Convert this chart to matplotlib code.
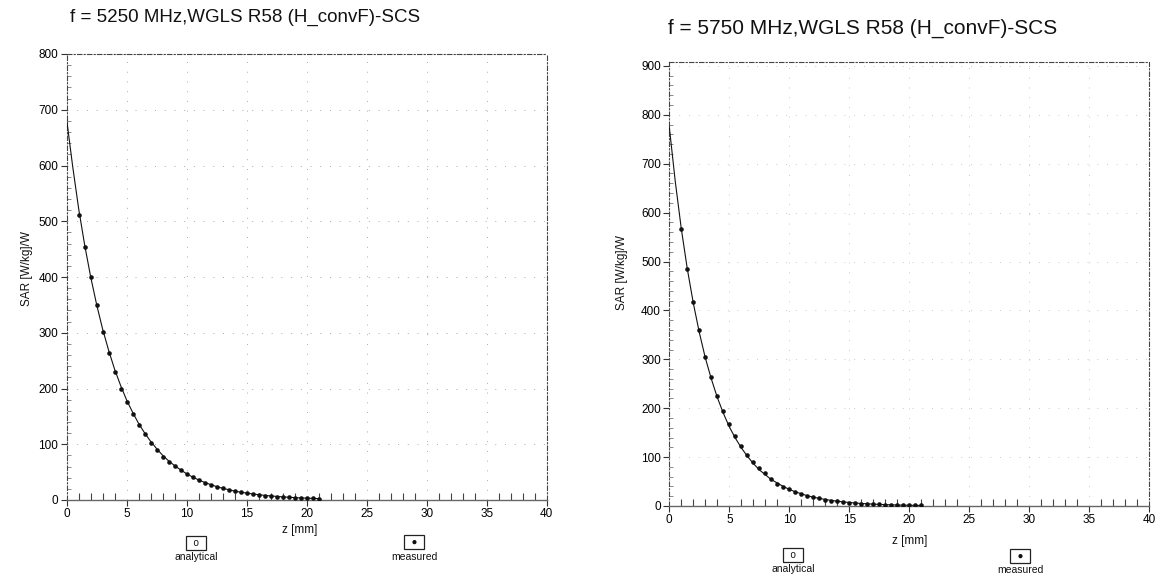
import matplotlib
matplotlib.use("Agg")
import matplotlib.pyplot as plt
from matplotlib.ticker import MultipleLocator

plt.rcParams["font.family"] = ["Liberation Sans", "DejaVu Sans"]

# Depth below the phantom surface [mm]
z_analytical = [0.0, 0.5, 1.0, 1.5, 2.0, 2.5, 3.0, 3.5, 4.0, 4.5, 5.0, 5.5, 6.0, 6.5,
                7.0, 7.5, 8.0, 8.5, 9.0, 9.5, 10.0, 10.5, 11.0, 11.5, 12.0, 12.5, 13.0,
                13.5, 14.0, 14.5, 15.0, 15.5, 16.0, 16.5, 17.0, 17.5, 18.0, 18.5, 19.0,
                19.5, 20.0, 20.5, 21.0]
z_measured = [1.0, 1.5, 2.0, 2.5, 3.0, 3.5, 4.0, 4.5, 5.0, 5.5, 6.0, 6.5, 7.0, 7.5,
              8.0, 8.5, 9.0, 9.5, 10.0, 10.5, 11.0, 11.5, 12.0, 12.5, 13.0, 13.5, 14.0,
              14.5, 15.0, 15.5, 16.0, 16.5, 17.0, 17.5, 18.0, 18.5, 19.0, 19.5, 20.0,
              20.5, 21.0]

# 5250 MHz: SAR per watt [W/kg/W]
sar_analytical_5250 = [682, 598, 522, 457, 400, 350, 306, 268, 234, 205, 179, 157, 137,
                       120, 105, 92, 80, 70, 61.5, 54, 47, 41, 36, 31.5, 27.6, 24, 21,
                       18.5, 16, 14, 12.4, 10.8, 9.5, 8.3, 7.3, 6.4, 5.6, 4.9, 4.3, 3.7,
                       3.3, 2.9, 2.5]
sar_measured_5250 = [512, 454, 400, 350, 301, 263, 230, 200, 176, 154, 135, 118, 103, 90,
                     78, 69, 61, 54, 47, 41, 36, 31, 27, 24, 21, 18, 16, 14, 12, 10.5, 9,
                     8, 7, 6, 5.5, 5, 4, 3.5, 3, 3, 2.5]

# 5750 MHz: SAR per watt [W/kg/W]
sar_analytical_5750 = [775, 663, 567, 485, 415, 355, 303, 260, 222, 190, 162, 139, 119,
                       102, 87, 74, 64, 54, 47, 40, 34, 29, 25, 21, 18, 15.6, 13.3, 11.4,
                       9.8, 8.4, 7.2, 6.1, 5.2, 4.5, 3.8, 3.3, 2.8, 2.4, 2.0, 1.7, 1.5,
                       1.3, 1.1]
sar_measured_5750 = [567, 485, 417, 359, 305, 263, 225, 194, 167, 143, 122, 104, 90, 78,
                     67, 56, 46, 39, 34, 29, 25, 21, 18, 15.5, 13, 11, 10, 8.5, 7, 6, 5,
                     4.5, 4, 3.5, 3, 2.5, 2, 1.7, 1.5, 1.3, 1.1]

x_ticks = [0, 5, 10, 15, 20, 25, 30, 35, 40]
titles = ["f = 5250 MHz,WGLS R58 (H_convF)-SCS", "f = 5750 MHz,WGLS R58 (H_convF)-SCS"]
y_label = "SAR [W/kg]/W"
x_label = "z [mm]"
legend_labels = ["analytical", "measured"]

W, H = 1167, 583
fig = plt.figure(figsize=(W / 100, H / 100), dpi=100)
fig.patch.set_facecolor("white")


def rect(x0, x1, y_top, y_bot):
    return [x0 / W, 1 - y_bot / H, (x1 - x0) / W, (y_bot - y_top) / H]


panels = [
    dict(rect=rect(66.7, 546.7, 54, 500), ymax=800, ana=sar_analytical_5250,
         meas=sar_measured_5250, title=titles[0], title_xy=(70, 17), title_size=13.5,
         ylab_xy=(27, 268), xlab_xy=(300, 530),
         leg=[(196, 543, 557), (414, 542, 557)], grid_alpha=0.55),
    dict(rect=rect(669.3, 1149.3, 62, 506), ymax=908, ana=sar_analytical_5750,
         meas=sar_measured_5750, title=titles[1], title_xy=(668, 28), title_size=15,
         ylab_xy=(622, 272), xlab_xy=(910, 541),
         leg=[(793, 555, 569), (1020, 556, 570)], grid_alpha=0.35),
]

for p in panels:
    ax = fig.add_axes(p["rect"])
    ax.set_xlim(0, 40)
    ax.set_ylim(0, p["ymax"])
    ax.xaxis.set_minor_locator(MultipleLocator(1))
    ax.yaxis.set_minor_locator(MultipleLocator(20))
    ax.set_xticks(x_ticks)
    ax.set_yticks(list(range(0, int(p["ymax"]) + 1, 100)))
    ax.tick_params(axis="both", which="major", labelsize=8.5, length=4, width=0.8,
                   color="#333333", pad=2)
    ax.tick_params(axis="x", which="minor", direction="in", length=5, width=0.8,
                   color="#444444")
    ax.tick_params(axis="y", which="minor", direction="in", length=3, width=0.6,
                   color="#777777")

    for side in ("top", "right", "left"):
        ax.spines[side].set_linestyle((0, (4, 2, 1, 2)))
        ax.spines[side].set_linewidth(0.8)
        ax.spines[side].set_color("#444444")
    ax.spines["bottom"].set_color("#666666")
    ax.spines["bottom"].set_linewidth(1.0)

    ax.grid(True, which="major", color="#666666", linestyle=(0, (1, 9)),
            linewidth=0.7, alpha=p["grid_alpha"])

    ax.plot(z_analytical, p["ana"], color="#111111", linewidth=0.8, zorder=3)
    ax.plot(z_measured, p["meas"], linestyle="none", marker="o", markersize=3.3,
            color="#111111", markeredgewidth=0, zorder=4)

    fig.text(p["title_xy"][0] / W, 1 - p["title_xy"][1] / H, p["title"],
             fontsize=p["title_size"], ha="left", va="center", color="#111111")
    fig.text(p["ylab_xy"][0] / W, 1 - p["ylab_xy"][1] / H, y_label,
             fontsize=8.5, rotation=90, ha="center", va="center", color="#111111")
    fig.text(p["xlab_xy"][0] / W, 1 - p["xlab_xy"][1] / H, x_label,
             fontsize=8.5, ha="center", va="center", color="#111111")

    for (lx, ly_box, ly_txt), label, sym in zip(p["leg"], legend_labels, ["o", "\u25cf"]):
        fig.text(lx / W, 1 - ly_box / H, "  " + sym + "  ", fontsize=7,
                 ha="center", va="center", color="#111111",
                 bbox=dict(boxstyle="square,pad=0.2", fc="white", ec="#222222", lw=0.9))
        fig.text(lx / W, 1 - ly_txt / H, label, fontsize=7.5,
                 ha="center", va="center", color="#111111")

fig.savefig("out.png", dpi=100, facecolor="white")
